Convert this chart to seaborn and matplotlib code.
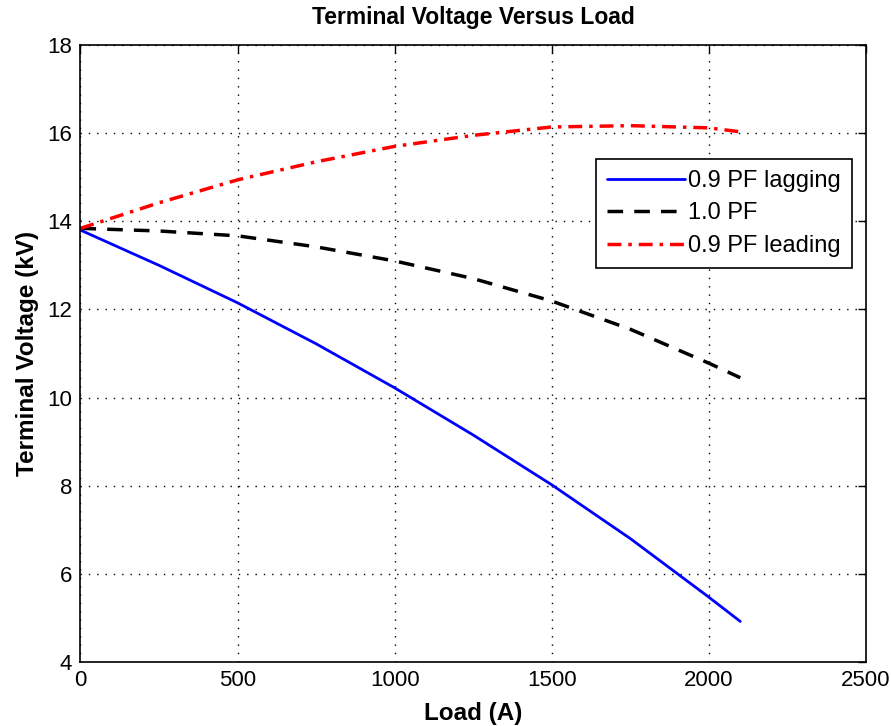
import pandas as pd
import matplotlib
matplotlib.use("Agg")
import matplotlib.pyplot as plt
import seaborn as sns

# --- data ---
load_a = [0, 250, 500, 750, 1000, 1250, 1500, 1750, 2000, 2100]
v_lagging = [13.8, 13.0, 12.15, 11.22, 10.22, 9.15, 8.02, 6.8, 5.47, 4.92]
v_unity = [13.84, 13.78, 13.67, 13.42, 13.1, 12.7, 12.19, 11.55, 10.78, 10.45]
v_leading = [13.84, 14.42, 14.94, 15.35, 15.7, 15.95, 16.14, 16.17, 16.12, 16.03]

labels = ["0.9 PF lagging", "1.0 PF", "0.9 PF leading"]
colors = ["#0000ff", "#000000", "#ff0000"]
widths = [2.0, 2.5, 2.5]
dashes = [None, (4.5, 3.2), (4, 2, 1, 2)]

df = pd.DataFrame({
    "Load": load_a * 3,
    "Voltage": v_lagging + v_unity + v_leading,
    "Series": [labels[0]] * len(load_a) + [labels[1]] * len(load_a) + [labels[2]] * len(load_a),
})

sns.set_style("white")
plt.rcParams["font.family"] = ["Liberation Sans", "DejaVu Sans"]
plt.rcParams["text.color"] = "black"

fig = plt.figure(figsize=(8.91, 7.26), dpi=100)
ax = fig.add_axes([0.0903, 0.0882, 0.8816, 0.8498])

# one lineplot per power factor so each gets its own style
for lab, col, lw, ds in zip(labels, colors, widths, dashes):
    sub = df[df["Series"] == lab]
    sns.lineplot(data=sub, x="Load", y="Voltage", color=col, linewidth=lw,
                 label=lab, ax=ax, estimator=None, sort=False)
    if ds is not None:
        ax.lines[-1].set_dashes(ds)

ax.set_xlim(0, 2500)
ax.set_ylim(4, 18)
ax.set_xticks(range(0, 2501, 500))
ax.set_yticks(range(4, 19, 2))
ax.grid(True, linestyle=(0, (1, 5)), color="black", linewidth=1.0)
ax.tick_params(direction="in", top=True, right=True, length=6, width=1,
               labelsize=16, colors="black", pad=6)
for sp in ax.spines.values():
    sp.set_visible(True)
    sp.set_color("black")
    sp.set_linewidth(1.2)

ax.set_title("Terminal Voltage Versus Load", fontsize=16.5, fontweight="bold",
             color="black", pad=15)
ax.set_xlabel("Load (A)", fontsize=17.5, fontweight="bold", color="black", labelpad=8)
ax.set_ylabel("Terminal Voltage (kV)", fontsize=17.5, fontweight="bold",
              color="black", labelpad=6)

leg = ax.legend(loc="upper right", bbox_to_anchor=(0.982, 0.815), fontsize=17,
                frameon=True, fancybox=False, edgecolor="black", framealpha=1,
                handlelength=3.3, handletextpad=0.15, borderaxespad=0, borderpad=0.45,
                labelspacing=0.45)
leg.get_frame().set_linewidth(1.2)

fig.savefig("out.png", dpi=100, facecolor="white")
